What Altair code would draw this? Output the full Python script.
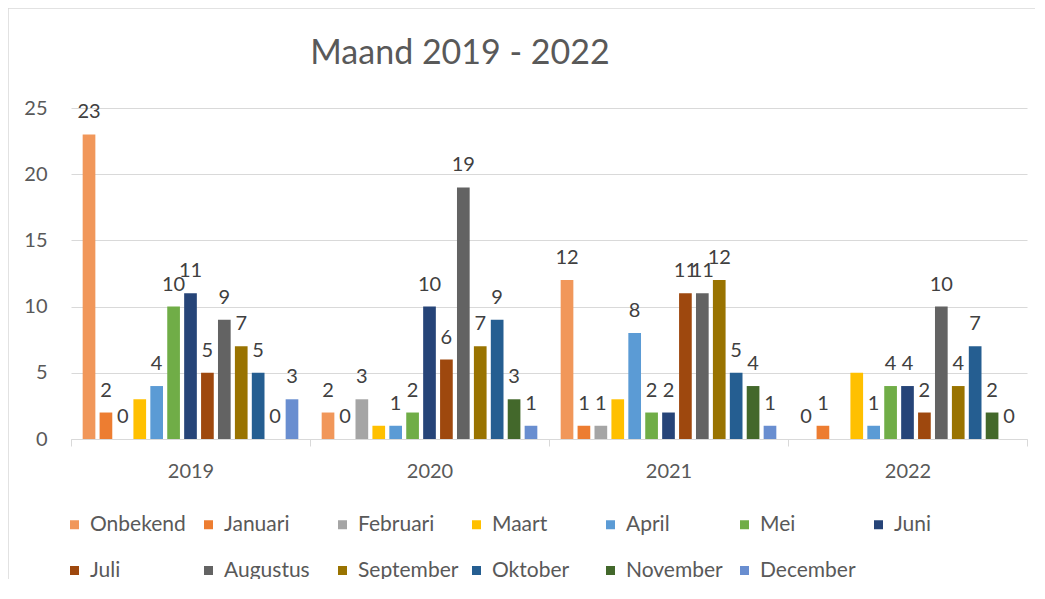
import altair as alt
import pandas as pd

FONT = "Lato"

title_text = "Maand 2019 - 2022"
years = ["2019", "2020", "2021", "2022"]
months = ["Onbekend", "Januari", "Februari", "Maart", "April", "Mei", "Juni",
          "Juli", "Augustus", "September", "Oktober", "November", "December"]
colors = ["#F1975A", "#ED7D31", "#A5A5A5", "#FFC000", "#5B9BD5", "#70AD47", "#264478",
          "#9E480E", "#636363", "#997300", "#255E91", "#43682B", "#698ED0"]

v2019 = [23, 2, 0, 3, 4, 10, 11, 5, 9, 7, 5, 0, 3]
v2020 = [2, 0, 3, 1, 1, 2, 10, 6, 19, 7, 9, 3, 1]
v2021 = [12, 1, 1, 3, 8, 2, 2, 11, 11, 12, 5, 4, 1]
v2022 = [0, 1, None, 5, 1, 4, 4, 2, 10, 4, 7, 2, 0]

no_label = ["Maart"]
y_ticks = [0, 5, 10, 15, 20, 25]

rows = []
for yr, vals in zip(years, [v2019, v2020, v2021, v2022]):
    for m, v in zip(months, vals):
        rows.append({"Jaar": yr, "Maand": m, "Aantal": v})
df = pd.DataFrame(rows)

x_enc = alt.X(
    "Jaar:N", sort=years,
    scale=alt.Scale(paddingInner=0, paddingOuter=0),
    axis=alt.Axis(title=None, labelAngle=0, tickBand="extent",
                  domainColor="#D9D9D9", tickColor="#D9D9D9", tickSize=7,
                  labelFontSize=20, labelFont=FONT, labelColor="#595959",
                  labelPadding=15),
)
xo_enc = alt.XOffset("Maand:N", sort=months,
                     scale=alt.Scale(paddingInner=0.25, paddingOuter=0.69))
y_enc = alt.Y(
    "Aantal:Q",
    scale=alt.Scale(domain=[0, 25], nice=False),
    axis=alt.Axis(title=None, values=y_ticks, domain=False, ticks=False,
                  gridColor="#D9D9D9", gridWidth=1,
                  labelFontSize=20, labelFont=FONT, labelColor="#595959",
                  labelPadding=24),
)
color_enc = alt.Color(
    "Maand:N", sort=months,
    scale=alt.Scale(domain=months, range=colors),
    legend=alt.Legend(title=None, orient="none", legendX=-7, legendY=406,
                      direction="horizontal", columns=7, gridAlign="all",
                      symbolType="square", symbolSize=81, symbolStrokeWidth=0,
                      labelFontSize=21, labelFont=FONT, labelColor="#595959",
                      labelOffset=5, columnPadding=7, rowPadding=24, padding=0),
)

base = alt.Chart(df)

bars = base.mark_bar().encode(x=x_enc, xOffset=xo_enc, y=y_enc, color=color_enc)

labels = base.mark_text(
    dy=-16, fontSize=20, font=FONT, color="#404040", baseline="alphabetic"
).encode(
    x=x_enc, xOffset=xo_enc, y=y_enc,
    text=alt.Text("Aantal:Q", format="d"),
).transform_filter(
    "isValid(datum.Aantal)"
).transform_filter(
    ~alt.FieldOneOfPredicate(field="Maand", oneOf=no_label)
)

frame = alt.Chart(pd.DataFrame({"f": [0]})).mark_rect(
    fillOpacity=0, stroke="#D9D9D9", strokeWidth=1.5
).encode(
    x=alt.value(-63), x2=alt.value(1000), y=alt.value(-100), y2=alt.value(600)
)

title = alt.Chart(pd.DataFrame({"t": [title_text]})).mark_text(
    fontSize=34, font=FONT, color="#595959", align="center", baseline="alphabetic"
).encode(
    x=alt.value(389), y=alt.value(-44), text="t:N"
)

chart = alt.layer(frame, bars, labels, title).properties(
    width=956, height=331,
    autosize="none",
    padding={"left": 63, "top": 100, "right": 8, "bottom": 140},
).configure_view(strokeWidth=0)

chart.save("out.html", embed_options={"renderer": "svg", "actions": False})
